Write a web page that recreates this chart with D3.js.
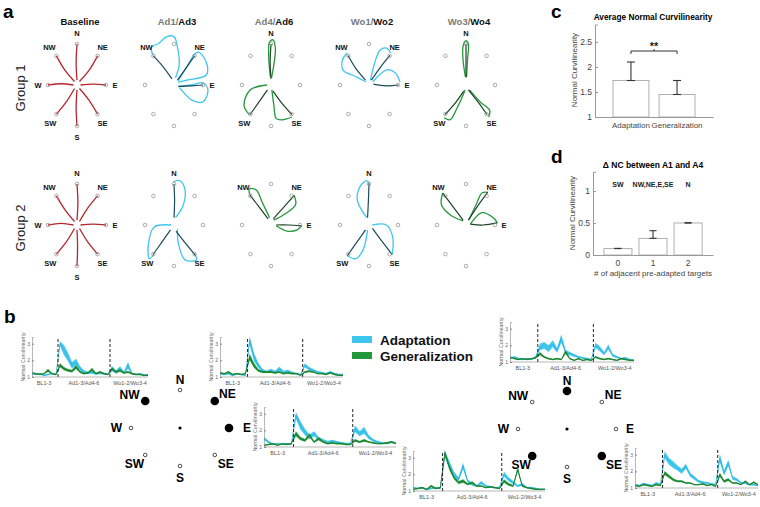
<!DOCTYPE html>
<html>
<head>
<meta charset="utf-8">
<script src="https://cdn.jsdelivr.net/npm/d3@7"></script>
<style>
  body { margin: 0; background: #fff; }
  svg { display: block; font-family: Arial, "Liberation Sans", sans-serif; }
</style>
</head>
<body>
<div id="fig"></div>
<script>
// ---------------- data ----------------
const targetNames = ['N', 'NE', 'E', 'SE', 'S', 'SW', 'W', 'NW'];
const targetDirs = [[0, 1], [0.71, 0.71], [1, 0], [0.71, -0.71], [0, -1], [-0.71, -0.71], [-1, 0], [-0.71, 0.71]];

const colTitles = [['', 'Baseline'], ['Ad1/', 'Ad3'], ['Ad4/', 'Ad6'], ['Wo1/', 'Wo2'], ['Wo3/', 'Wo4']];
const groupNames = ['Group 1', 'Group 2'];

// baseline reaches: sideways bend of each straight-ish reach (target radius units)
const base1Bend = [0.03, -0.04, 0.02, 0.03, -0.03, 0.03, -0.03, 0.04];
const base2Bend = [-0.03, 0.03, 0.02, -0.03, 0.02, 0.03, -0.04, 0.03];

// trajectories (target radius units, y up): dark = early trial, loop = late trial
const g1Ad13 = [
  { t: 'NW', dark: [[-0.07, 0.15], [-0.38, 0.45], [-0.71, 0.71]], loop: [[0.05, 0.17], [0.18, 0.5], [0.12, 0.92], [0.0, 1.18], [-0.25, 1.18], [-0.52, 1.02], [-0.78, 0.92], [-0.72, 0.72]] },
  { t: 'NE', dark: [[0.12, 0.12], [0.42, 0.42], [0.71, 0.71]], loop: [[0.14, 0.1], [0.45, 0.45], [0.72, 0.76], [0.85, 0.8], [1.1, 0.58], [1.12, 0.25], [0.45, 0.12], [0.14, 0.07]] },
  { t: 'E', dark: [[0.15, -0.04], [0.6, -0.02], [1.0, 0]], loop: [[0.15, -0.03], [0.6, 0.0], [1.0, 0.05], [1.17, -0.12], [1.0, -0.41], [0.62, -0.37], [0.2, -0.07]] }
];
const g1Ad46 = [
  { t: 'N', dark: [[0, 0.15], [-0.03, 0.55], [0, 1.0]], loop: [[0.02, 0.18], [0.12, 0.6], [0.15, 0.9], [0.07, 1.1], [-0.05, 1.05], [-0.08, 0.7], [-0.02, 0.2]] },
  { t: 'SW', dark: [[-0.12, -0.12], [-0.42, -0.42], [-0.72, -0.72]], loop: [[-0.14, 0.0], [-0.72, -0.12], [-0.93, -0.5], [-0.75, -0.72]] },
  { t: 'SE', dark: [[0.07, -0.15], [0.38, -0.45], [0.72, -0.72]], loop: [[0.03, -0.12], [0.1, -0.5], [0.18, -0.82], [0.38, -0.85], [0.72, -0.78]] }
];
const g1Wo12 = [
  { t: 'NW', dark: [[-0.12, 0.12], [-0.45, 0.4], [-0.72, 0.72]], loop: [[-0.1, 0.08], [-0.5, 0.22], [-0.88, 0.35], [-0.92, 0.6], [-0.75, 0.78]] },
  { t: 'NE', dark: [[0.08, 0.12], [0.38, 0.42], [0.72, 0.72]], loop: [[0.05, 0.12], [0.2, 0.55], [0.38, 0.85], [0.6, 0.9], [0.75, 0.78]] },
  { t: 'E', dark: [[0.15, 0.02], [0.6, -0.02], [1.02, 0.0]], loop: [[0.13, 0.08], [0.62, 0.37], [0.9, 0.3], [1.07, 0.07]] }
];
const g1Wo34 = [
  { t: 'N', dark: [[0, 0.18], [0.0, 0.6], [0.0, 1.0]], loop: [[-0.02, 0.2], [-0.1, 0.6], [-0.1, 0.95], [0.0, 1.08], [0.08, 1.0], [0.05, 0.6], [0.02, 0.2]] },
  { t: 'SW', dark: [[-0.08, -0.15], [-0.38, -0.45], [-0.72, -0.72]], loop: [[-0.03, -0.12], [-0.3, -0.55], [-0.55, -0.85], [-0.75, -0.8]] },
  { t: 'SE', dark: [[0.08, -0.12], [0.42, -0.42], [0.72, -0.72]], loop: [[0.12, -0.12], [0.5, -0.42], [0.82, -0.62], [0.78, -0.78]] }
];
const g2Ad13 = [
  { t: 'N', dark: [[0, 0.18], [0.02, 0.6], [0, 1.0]], loop: [[0.05, 0.18], [0.3, 0.45], [0.38, 0.85], [0.2, 1.08], [-0.02, 1.05]] },
  { t: 'SW', dark: [[-0.12, -0.12], [-0.42, -0.42], [-0.72, -0.72]], loop: [[-0.1, 0.0], [-0.68, -0.05], [-0.88, -0.45], [-0.85, -0.82], [-0.7, -0.72]] },
  { t: 'SE', dark: [[0.07, -0.15], [0.4, -0.45], [0.75, -0.75]], loop: [[0.12, -0.1], [0.15, -0.45], [0.38, -0.85], [0.78, -0.85], [0.72, -0.72]] }
];
const g2Ad46 = [
  { t: 'NW', dark: [[-0.1, 0.15], [-0.42, 0.45], [-0.72, 0.72]], loop: [[-0.05, 0.18], [-0.3, 0.55], [-0.5, 0.85], [-0.75, 0.88], [-0.72, 0.72]] },
  { t: 'NE', dark: [[0.08, 0.15], [0.42, 0.42], [0.8, 0.72]], loop: [[0.1, 0.12], [0.55, 0.3], [0.85, 0.5], [0.8, 0.72]] },
  { t: 'E', dark: [[0.18, 0.0], [0.6, 0.0], [1.05, -0.02]], loop: [[0.18, -0.02], [0.55, -0.15], [0.9, -0.12], [1.05, -0.02]] }
];
const g2Wo12 = [
  { t: 'N', dark: [[-0.05, 0.18], [-0.02, 0.6], [0, 1.02]], loop: [[-0.08, 0.18], [-0.4, 0.6], [-0.3, 0.95], [-0.08, 1.08], [0.0, 1.02]] },
  { t: 'SW', dark: [[-0.12, -0.12], [-0.45, -0.45], [-0.75, -0.75]], loop: [[-0.05, -0.12], [-0.2, -0.6], [-0.45, -0.82], [-0.75, -0.75]] },
  { t: 'SE', dark: [[0.12, -0.08], [0.45, -0.4], [0.8, -0.72]], loop: [[0.12, 0.0], [0.6, 0.0], [0.82, -0.3], [0.8, -0.72]] }
];
const g2Wo34 = [
  { t: 'NW', dark: [[-0.1, 0.12], [-0.45, 0.45], [-0.8, 0.78]], loop: [[-0.1, 0.1], [-0.55, 0.25], [-0.85, 0.5], [-0.8, 0.78]] },
  { t: 'NE', dark: [[0.08, 0.12], [0.42, 0.48], [0.75, 0.8]], loop: [[0.1, 0.12], [0.35, 0.5], [0.55, 0.78], [0.75, 0.8]] },
  { t: 'E', dark: [[0.15, 0.02], [0.6, 0.0], [1.08, 0.05]], loop: [[0.15, 0.02], [0.55, 0.3], [0.95, 0.17], [1.08, 0.05]] }
];

// panel b: normal curvilinearity per trial bin (BL 7 | Ad 13 | Wo 10)
const binLabels = ['BL1-3', 'Ad1-3/Ad4-6', 'Wo1-2/Wo3-4'];
const nwAdapt = [1.2,1.15,1.2,1.1,1.15,1.2,1.15, 3.0,2.6,2.2,1.7,1.9,1.5,1.3,1.25,1.3,1.2,1.25,1.2,1.15, 1.5,1.3,1.5,1.25,1.7,1.2,1.15,1.2,1.1,1.15];
const nwAdaptSem = [.05,.05,.05,.05,.05,.05,.05, .15,.3,.25,.2,.2,.15,.1,.08,.1,.06,.08,.06,.05, .15,.1,.15,.08,.2,.06,.05,.05,.05,.05];
const nwGen = [1.25,1.2,1.15,1.2,1.4,1.2,1.15, 1.7,1.5,1.4,1.35,1.6,1.3,1.2,1.25,1.45,1.2,1.3,1.2,1.15, 1.5,1.3,1.4,1.25,1.3,1.2,1.15,1.15,1.1,1.1];
const nwGenSem = [.04,.04,.04,.04,.1,.04,.04, .12,.1,.08,.08,.12,.06,.05,.05,.1,.05,.06,.05,.04, .1,.06,.08,.05,.06,.05,.04,.04,.04,.04];

const neAdapt = [1.2,1.15,1.2,1.1,1.2,1.15,1.1, 3.2,2.2,1.7,1.4,1.3,1.4,1.3,1.5,1.3,1.35,1.25,1.2,1.15, 1.7,1.5,1.4,1.3,1.25,1.2,1.3,1.2,1.15,1.15];
const neAdaptSem = [.05,.05,.05,.05,.05,.05,.05, .25,.25,.15,.1,.08,.1,.08,.12,.08,.08,.06,.05,.05, .12,.1,.08,.06,.06,.05,.06,.05,.05,.05];
const neGen = [1.25,1.2,1.3,1.15,1.2,1.15,1.2, 2.2,1.7,1.4,1.3,1.3,1.3,1.25,1.3,1.2,1.25,1.2,1.2,1.1, 1.3,1.35,1.3,1.2,1.2,1.15,1.25,1.15,1.1,1.1];
const neGenSem = [.05,.04,.06,.04,.04,.04,.04, .2,.15,.08,.06,.06,.06,.05,.06,.05,.05,.05,.04,.04, .06,.06,.05,.04,.04,.04,.05,.04,.04,.04];

const eAdapt = [1.5,1.3,1.15,1.2,1.15,1.2,1.15, 2.9,2.3,1.9,1.6,1.8,1.5,1.4,1.3,1.35,1.3,1.25,1.2,1.2, 2.1,1.8,2.0,1.6,1.4,1.3,1.25,1.2,1.3,1.25];
const eAdaptSem = [.1,.08,.05,.05,.05,.05,.05, .2,.25,.2,.15,.15,.1,.08,.06,.08,.06,.05,.05,.05, .2,.15,.2,.12,.08,.06,.05,.05,.06,.05];
const eGen = [1.1,1.15,1.2,1.1,1.2,1.15,1.2, 1.8,1.5,1.4,1.7,1.3,1.5,1.3,1.2,1.25,1.2,1.2,1.15,1.15, 1.4,1.3,1.4,1.3,1.25,1.2,1.2,1.25,1.3,1.2];
const eGenSem = [.04,.04,.05,.04,.04,.04,.04, .15,.1,.08,.12,.06,.1,.06,.05,.05,.05,.05,.04,.04, .08,.06,.08,.05,.05,.04,.04,.05,.06,.04];

const nAdapt = [1.2,1.3,1.2,1.15,1.2,1.15,1.3, 1.9,2.0,1.8,2.1,1.7,2.4,1.6,1.5,1.4,1.3,1.25,1.2,1.15, 2.0,1.8,1.5,1.9,1.4,1.3,1.2,1.25,1.15,1.1];
const nAdaptSem = [.05,.06,.05,.05,.05,.05,.06, .2,.2,.2,.2,.15,.25,.12,.1,.08,.06,.05,.05,.05, .15,.15,.1,.15,.08,.06,.05,.05,.05,.05];
const nGen = [1.3,1.2,1.15,1.2,1.15,1.2,1.25, 1.5,1.3,1.2,1.15,1.2,1.15,1.6,1.2,1.1,1.2,1.1,1.15,1.1, 1.3,1.2,1.15,1.2,1.15,1.1,1.2,1.15,1.1,1.1];
const nGenSem = [.05,.04,.04,.04,.04,.04,.05, .1,.06,.05,.04,.05,.04,.12,.05,.04,.05,.04,.04,.04, .06,.05,.04,.05,.04,.04,.05,.04,.04,.04];

const swAdapt = [1.2,1.15,1.2,1.1,1.15,1.2,1.15, 3.2,2.6,2.0,1.7,2.5,1.6,1.4,1.3,1.5,1.3,1.25,1.2,1.2, 2.0,1.7,1.5,1.3,1.4,1.2,1.2,1.15,1.1,1.1];
const swAdaptSem = [.05,.05,.05,.05,.05,.05,.05, .2,.2,.15,.12,.2,.1,.08,.06,.1,.06,.05,.05,.05, .15,.12,.1,.06,.08,.05,.05,.05,.04,.04];
const swGen = [1.1,1.15,1.2,1.1,1.3,1.15,1.2, 3.3,2.4,1.8,1.5,1.6,1.4,1.5,1.3,1.3,1.2,1.25,1.2,1.15, 1.6,1.4,1.3,2.3,1.3,1.2,1.15,1.1,1.1,1.1];
const swGenSem = [.04,.04,.05,.04,.08,.04,.05, .15,.15,.1,.08,.1,.06,.08,.05,.05,.04,.05,.04,.04, .1,.08,.06,.15,.06,.04,.04,.04,.04,.04];

const seAdapt = [1.2,1.15,1.25,1.2,1.15,1.3,1.2, 3.0,2.6,2.4,2.2,2.0,2.3,1.8,1.6,1.4,1.35,1.3,1.25,1.2, 2.8,1.9,2.5,1.6,1.5,1.3,1.3,1.2,1.2,1.15];
const seAdaptSem = [.05,.05,.06,.05,.05,.06,.05, .2,.2,.2,.15,.15,.15,.12,.1,.08,.06,.06,.05,.05, .25,.15,.2,.1,.08,.06,.06,.05,.05,.05];
const seGen = [1.15,1.1,1.2,1.15,1.1,1.2,1.15, 1.9,1.7,1.5,1.4,1.4,1.3,1.3,1.2,1.2,1.25,1.15,1.2,1.1, 1.8,1.4,1.5,1.3,1.3,1.2,1.4,1.2,1.35,1.2];
const seGenSem = [.04,.04,.05,.04,.04,.05,.04, .12,.1,.08,.06,.06,.05,.05,.04,.04,.05,.04,.04,.04, .12,.08,.08,.05,.05,.04,.06,.04,.06,.04];

const leftTrained = ['NW', 'NE', 'E'];
const rightTrained = ['N', 'SW', 'SE'];

// panel c
const ncCats = ['Adaptation', 'Generalization'];
const ncMeans = [1.73, 1.45];
const ncErr = [0.37, 0.28];
const ncTicks = [1, 1.5, 2, 2.5];

// panel d
const adjCats = ['0', '1', '2'];
const adjMeans = [0.1, 0.26, 0.5];
const adjErr = [0.004, 0.12, 0.004];
const adjNotes = ['SW', 'NW,NE,E,SE', 'N'];
const adjTicks = [0, 0.5, 1];

// ---------------- drawing ----------------
const cyan = '#3fc6ee', green = '#24973c', red = '#b5262d';
const darkCyan = '#1b4b58', darkGreen = '#1a4424';
const textGray = '#444';

const svg = d3.select('#fig').append('svg').attr('width', 760).attr('height', 507);

function panelLabel(x, y, s) {
  svg.append('text').attr('x', x).attr('y', y).attr('font-size', 19).attr('font-weight', 'bold').text(s);
}
panelLabel(3, 18, 'a');
panelLabel(4, 323, 'b');
panelLabel(551, 18, 'c');
panelLabel(551, 163, 'd');

// ---- panel a
const colX = [77, 174, 271, 369, 466];
const rowY = [85, 225];
const rx = 29, ry = 41;
const labelOff = {
  N: [0, -8, 'middle'], NE: [5, -6, 'middle'], E: [9, 3, 'middle'], SE: [5, 12, 'middle'],
  S: [0, 14, 'middle'], SW: [-6, 12, 'middle'], W: [-10, 3, 'middle'], NW: [-7, -6, 'middle']
};

colTitles.forEach((c, i) => {
  const t = svg.append('text').attr('x', colX[i] + 3).attr('y', 25).attr('text-anchor', 'middle')
    .attr('font-size', 9.5).attr('font-weight', 'bold');
  t.append('tspan').attr('fill', '#7a7a7a').text(c[0]);
  t.append('tspan').attr('fill', '#111').text(c[1]);
});
groupNames.forEach((g, i) => {
  svg.append('text').attr('transform', `translate(25,${rowY[i] + 3}) rotate(-90)`)
    .attr('text-anchor', 'middle').attr('font-size', 13).attr('fill', '#222').text(g);
});

const line = d3.line().curve(d3.curveCatmullRom.alpha(0.5));

function drawCompass(row, col, tracks, loopColor, darkColor, bend) {
  const cx = colX[col], cy = rowY[row];
  const x = d3.scaleLinear().domain([-1, 1]).range([cx - rx, cx + rx]);
  const y = d3.scaleLinear().domain([-1, 1]).range([cy + ry, cy - ry]);
  const g = svg.append('g');
  const pt = p => [x(p[0]), y(p[1])];

  if (bend) {
    targetDirs.forEach((d, i) => {
      const perp = [-d[1], d[0]];
      const pts = [[d[0] * 0.12, d[1] * 0.12],
        [d[0] * 0.55 + perp[0] * bend[i], d[1] * 0.55 + perp[1] * bend[i]],
        [d[0] * 1.0, d[1] * 1.0]];
      g.append('path').attr('d', line(pts.map(pt))).attr('fill', 'none')
        .attr('stroke', red).attr('stroke-width', 1.3);
    });
  }
  (tracks || []).forEach(tr => {
    g.append('path').attr('d', line(tr.loop.map(pt))).attr('fill', 'none')
      .attr('stroke', loopColor).attr('stroke-width', 1.3);
    g.append('path').attr('d', line(tr.dark.map(pt))).attr('fill', 'none')
      .attr('stroke', darkColor).attr('stroke-width', 1.2);
  });
  g.selectAll('circle.tg').data(targetDirs).join('circle').attr('class', 'tg')
    .attr('cx', d => x(d[0])).attr('cy', d => y(d[1])).attr('r', 1.8)
    .attr('fill', 'none').attr('stroke', '#8a8a8a').attr('stroke-width', 0.7);
  const shown = bend ? targetNames : tracks.map(t => t.t);
  shown.forEach(n => {
    const d = targetDirs[targetNames.indexOf(n)];
    const o = labelOff[n];
    g.append('text').attr('x', x(d[0]) + o[0]).attr('y', y(d[1]) + o[1]).attr('text-anchor', o[2])
      .attr('font-size', 7.5).attr('font-weight', 'bold').attr('fill', '#111').text(n);
  });
}

drawCompass(0, 0, null, null, null, base1Bend);
drawCompass(0, 1, g1Ad13, cyan, darkCyan);
drawCompass(0, 2, g1Ad46, green, darkGreen);
drawCompass(0, 3, g1Wo12, cyan, darkCyan);
drawCompass(0, 4, g1Wo34, green, darkGreen);
drawCompass(1, 0, null, null, null, base2Bend);
drawCompass(1, 1, g2Ad13, cyan, darkCyan);
drawCompass(1, 2, g2Ad46, green, darkGreen);
drawCompass(1, 3, g2Wo12, cyan, darkCyan);
drawCompass(1, 4, g2Wo34, green, darkGreen);

// ---- panel b : target maps
const bOff = {
  N: [0, -6, 'middle'], NE: [3, -3, 'start'], E: [10, 4, 'start'], SE: [3, 13, 'start'],
  S: [0, 16, 'middle'], SW: [-1, 13, 'end'], W: [-9, 4, 'end'], NW: [-4, -2, 'end']
};
function drawTargetMap(cx, cy, trained) {
  const x = d3.scaleLinear().domain([-1, 1]).range([cx - 49, cx + 49]);
  const y = d3.scaleLinear().domain([-1, 1]).range([cy + 38, cy - 38]);
  const g = svg.append('g');
  g.append('circle').attr('cx', cx).attr('cy', cy).attr('r', 1.6).attr('fill', '#000');
  targetNames.forEach((n, i) => {
    const d = targetDirs[i];
    const big = trained.includes(n);
    g.append('circle').attr('cx', x(d[0])).attr('cy', y(d[1]))
      .attr('r', big ? 4.3 : 1.8)
      .attr('fill', big ? '#000' : '#fff').attr('stroke', big ? 'none' : '#222').attr('stroke-width', 0.8);
    const o = bOff[n];
    g.append('text').attr('x', x(d[0]) + o[0] * (big && o[2] !== 'middle' ? 1.4 : 1)).attr('y', y(d[1]) + o[1])
      .attr('text-anchor', o[2]).attr('font-size', 12).attr('font-weight', 'bold').attr('fill', '#000').text(n);
  });
}
drawTargetMap(180, 428, leftTrained);
drawTargetMap(567, 429, rightTrained);

// ---- panel b : legend
[['Adaptation', cyan, 336], ['Generalization', green, 352]].forEach(l => {
  svg.append('rect').attr('x', 352).attr('y', l[2]).attr('width', 20).attr('height', 7).attr('fill', l[1]);
  svg.append('text').attr('x', 380).attr('y', l[2] + 9).attr('font-size', 13.5).attr('font-weight', 'bold')
    .attr('fill', '#111').text(l[0]);
});

// ---- panel b : curvilinearity traces
const bCharts = [
  { x0: 32, x1: 148, yb: 377, a: nwAdapt, as: nwAdaptSem, g: nwGen, gs: nwGenSem },
  { x0: 220, x1: 343, yb: 377, a: neAdapt, as: neAdaptSem, g: neGen, gs: neGenSem },
  { x0: 264, x1: 396, yb: 447, a: eAdapt, as: eAdaptSem, g: eGen, gs: eGenSem },
  { x0: 510, x1: 634, yb: 362, a: nAdapt, as: nAdaptSem, g: nGen, gs: nGenSem },
  { x0: 413, x1: 545, yb: 491, a: swAdapt, as: swAdaptSem, g: swGen, gs: swGenSem },
  { x0: 635, x1: 758, yb: 488, a: seAdapt, as: seAdaptSem, g: seGen, gs: seGenSem }
];
const binEdges = [6.5, 19.5];
const binMids = [3, 13, 24.5];

bCharts.forEach(c => {
  const x = d3.scaleLinear().domain([0, c.a.length - 1]).range([c.x0, c.x1]);
  const y = d3.scaleLinear().domain([1, 3.4]).range([c.yb, c.yb - 40]);
  const g = svg.append('g');
  const band = (m, s) => d3.area().x((d, i) => x(i)).y0((d, i) => y(m[i] - s[i])).y1((d, i) => y(m[i] + s[i]))(m);
  const mean = m => d3.line().x((d, i) => x(i)).y(d => y(d))(m);

  g.append('path').attr('d', band(c.a, c.as)).attr('fill', '#45c8f0');
  g.append('path').attr('d', mean(c.a)).attr('fill', 'none').attr('stroke', '#27b2de').attr('stroke-width', 0.7);
  g.append('path').attr('d', band(c.g, c.gs)).attr('fill', '#2a9a3e');
  g.append('path').attr('d', mean(c.g)).attr('fill', 'none').attr('stroke', '#167a2a').attr('stroke-width', 0.8);

  binEdges.forEach(e => {
    g.append('line').attr('x1', x(e)).attr('x2', x(e)).attr('y1', c.yb).attr('y2', c.yb - 40)
      .attr('stroke', '#222').attr('stroke-width', 1).attr('stroke-dasharray', '3,2');
  });
  const ax = g.append('g').attr('transform', `translate(${c.x0},0)`)
    .call(d3.axisLeft(y).tickValues([1, 2, 3]).tickSize(-2).tickPadding(2).tickFormat(d3.format('d')));
  ax.selectAll('text').attr('font-size', 5).attr('fill', '#666');
  ax.selectAll('line').attr('stroke', '#888');
  ax.select('.domain').attr('stroke', '#888').attr('stroke-width', 0.6);
  g.append('line').attr('x1', c.x0).attr('x2', c.x1).attr('y1', c.yb).attr('y2', c.yb)
    .attr('stroke', '#888').attr('stroke-width', 0.6);
  binLabels.forEach((b, i) => {
    g.append('text').attr('x', x(binMids[i])).attr('y', c.yb + 8).attr('text-anchor', 'middle')
      .attr('font-size', 5.5).attr('fill', '#555').text(b);
  });
  g.append('text').attr('transform', `translate(${c.x0 - 7},${c.yb - 20}) rotate(-90)`)
    .attr('text-anchor', 'middle').attr('font-size', 5.3).attr('fill', '#666').text('Normal Curvilinearity');
});

// ---- panel c
{
  const x = d3.scaleBand().domain(ncCats).range([595, 713]).paddingInner(0.22).paddingOuter(0.39);
  const y = d3.scaleLinear().domain([1, 2.85]).range([117, 24.5]);
  const g = svg.append('g');
  g.append('text').attr('x', 653).attr('y', 20).attr('text-anchor', 'middle').attr('font-size', 8.3)
    .attr('font-weight', 'bold').text('Average Normal Curvilinearity');
  g.selectAll('rect').data(ncCats).join('rect')
    .attr('x', d => x(d)).attr('width', x.bandwidth())
    .attr('y', (d, i) => y(ncMeans[i])).attr('height', (d, i) => y(1) - y(ncMeans[i]))
    .attr('fill', '#fff').attr('stroke', '#a8a8a8').attr('stroke-width', 0.9);
  ncCats.forEach((d, i) => {
    const cx = x(d) + x.bandwidth() / 2;
    g.append('line').attr('x1', cx).attr('x2', cx).attr('y1', y(ncMeans[i])).attr('y2', y(ncMeans[i] + ncErr[i]))
      .attr('stroke', '#333').attr('stroke-width', 1.1);
    [ncMeans[i], ncMeans[i] + ncErr[i]].forEach(v => {
      g.append('line').attr('x1', cx - 4).attr('x2', cx + 4).attr('y1', y(v)).attr('y2', y(v))
        .attr('stroke', '#333').attr('stroke-width', 1.1);
    });
  });
  const xa = g.append('g').attr('transform', 'translate(0,117)').call(d3.axisBottom(x).tickSize(0).tickPadding(5));
  xa.selectAll('text').attr('font-size', 7.9).attr('fill', textGray);
  xa.select('.domain').attr('stroke', '#999');
  const ya = g.append('g').attr('transform', 'translate(595,0)')
    .call(d3.axisLeft(y).tickValues(ncTicks).tickSize(-3).tickPadding(3).tickFormat(d => d));
  ya.selectAll('text').attr('font-size', 8.5).attr('fill', textGray);
  ya.selectAll('line').attr('stroke', '#999');
  ya.select('.domain').attr('stroke', '#999');
  g.append('text').attr('transform', 'translate(577,70) rotate(-90)').attr('text-anchor', 'middle')
    .attr('font-size', 8).attr('fill', textGray).text('Normal Curvilinearity');
  // significance bracket
  const bx1 = x(ncCats[0]) + x.bandwidth() / 2, bx2 = x(ncCats[1]) + x.bandwidth() / 2, by = 51;
  g.append('path').attr('d', `M${bx1},${by + 3}V${by}H${bx2}V${by + 3}M${(bx1 + bx2) / 2},${by}V${by - 2}`)
    .attr('fill', 'none').attr('stroke', '#333').attr('stroke-width', 1);
  g.append('text').attr('x', (bx1 + bx2) / 2).attr('y', by - 1).attr('text-anchor', 'middle')
    .attr('font-size', 11).attr('font-weight', 'bold').attr('fill', '#222').text('**');
}

// ---- panel d
{
  const x = d3.scaleBand().domain(adjCats).range([593, 713]).paddingInner(0.2).paddingOuter(0.31);
  const y = d3.scaleLinear().domain([0, 1.3]).range([255, 171.8]);
  const g = svg.append('g');
  g.append('text').attr('x', 653).attr('y', 168).attr('text-anchor', 'middle').attr('font-size', 8.5)
    .attr('font-weight', 'bold').text('\u0394 NC between A1 and A4');
  g.selectAll('rect').data(adjCats).join('rect')
    .attr('x', d => x(d)).attr('width', x.bandwidth())
    .attr('y', (d, i) => y(adjMeans[i])).attr('height', (d, i) => y(0) - y(adjMeans[i]))
    .attr('fill', '#fff').attr('stroke', '#a8a8a8').attr('stroke-width', 0.9);
  adjCats.forEach((d, i) => {
    const cx = x(d) + x.bandwidth() / 2;
    g.append('line').attr('x1', cx).attr('x2', cx).attr('y1', y(adjMeans[i])).attr('y2', y(adjMeans[i] + adjErr[i]))
      .attr('stroke', '#333').attr('stroke-width', 1.1);
    [adjMeans[i], adjMeans[i] + adjErr[i]].forEach(v => {
      g.append('line').attr('x1', cx - 3.5).attr('x2', cx + 3.5).attr('y1', y(v)).attr('y2', y(v))
        .attr('stroke', '#333').attr('stroke-width', 1.1);
    });
    g.append('text').attr('x', cx).attr('y', 187).attr('text-anchor', 'middle').attr('font-size', 7)
      .attr('font-weight', 'bold').attr('fill', '#222').text(adjNotes[i]);
  });
  const xa = g.append('g').attr('transform', 'translate(0,255)').call(d3.axisBottom(x).tickSize(0).tickPadding(5));
  xa.selectAll('text').attr('font-size', 8.5).attr('fill', textGray);
  xa.select('.domain').attr('stroke', '#999');
  const ya = g.append('g').attr('transform', 'translate(593,0)')
    .call(d3.axisLeft(y).tickValues(adjTicks).tickSize(-3).tickPadding(3).tickFormat(d => d));
  ya.selectAll('text').attr('font-size', 8.5).attr('fill', textGray);
  ya.selectAll('line').attr('stroke', '#999');
  ya.select('.domain').attr('stroke', '#999');
  g.append('text').attr('transform', 'translate(575,213) rotate(-90)').attr('text-anchor', 'middle')
    .attr('font-size', 8).attr('fill', textGray).text('Normal Curvilinearity');
  g.append('text').attr('x', 653).attr('y', 276).attr('text-anchor', 'middle').attr('font-size', 8)
    .attr('fill', textGray).text('# of adjacent pre-adapted targets');
}
</script>
</body>
</html>
